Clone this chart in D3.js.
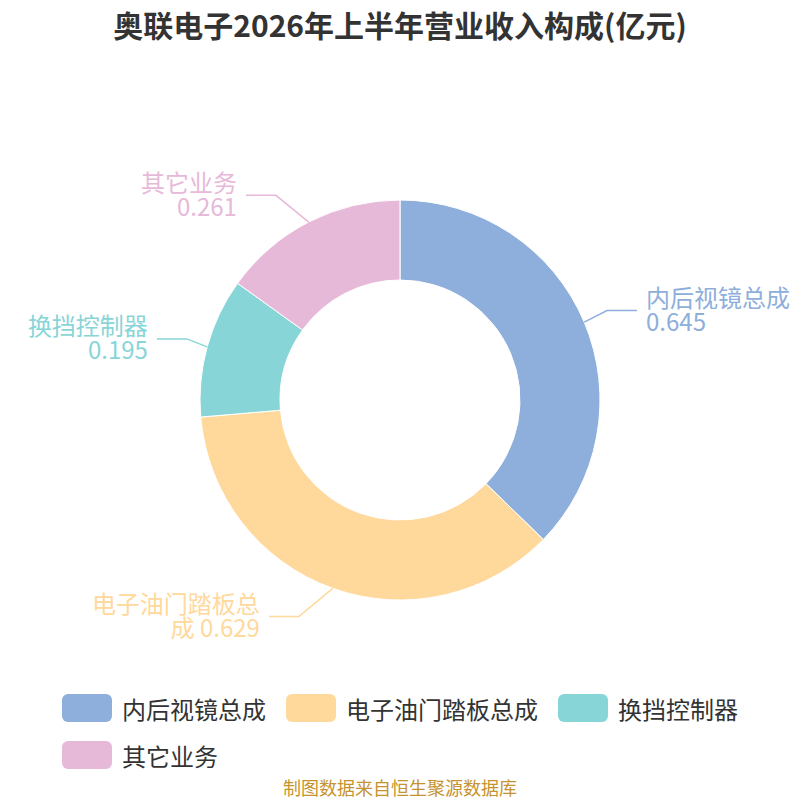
<!DOCTYPE html>
<html>
<head>
<meta charset="utf-8">
<script src="https://cdn.jsdelivr.net/npm/d3@7"></script>
<style>
  body { margin: 0; background: #fff; }
  text { font-family: "Noto Sans CJK SC", "Noto Sans", sans-serif; }
</style>
</head>
<body>
<div id="chart"></div>
<script>
// data
const categories = ["内后视镜总成", "电子油门踏板总成", "换挡控制器", "其它业务"];
const values = [0.645, 0.629, 0.195, 0.261];
const colors = ["#8eaedb", "#ffd99b", "#88d5d8", "#e7b9d9"];
const title = "奥联电子2026年上半年营业收入构成(亿元)";
const source = "制图数据来自恒生聚源数据库";

const width = 800, height = 800;
const cx = 400, cy = 400;
const outerR = 200, innerR = 120;

const svg = d3.select("#chart")
    .append("svg")
    .attr("width", width)
    .attr("height", height);

// title
svg.append("text")
    .attr("x", width / 2)
    .attr("y", 24)
    .attr("text-anchor", "middle")
    .attr("dominant-baseline", "central")
    .attr("font-size", 30)
    .attr("font-weight", "bold")
    .attr("fill", "#333")
    .text(title);

const data = categories.map((c, i) => ({ name: c, value: values[i], color: colors[i] }));

const pie = d3.pie()
    .value(d => d.value)
    .sort(null);

const arc = d3.arc()
    .innerRadius(innerR)
    .outerRadius(outerR);

const g = svg.append("g")
    .attr("transform", `translate(${cx},${cy})`);

const arcs = pie(data);

g.selectAll("path.slice")
    .data(arcs)
    .join("path")
    .attr("class", "slice")
    .attr("d", arc)
    .attr("fill", d => d.data.color)
    .attr("stroke", "#fff")
    .attr("stroke-width", 1);

// outside labels with leader lines
const len1 = 30, len2 = 30, gap = 10, lineH = 24, maxChars = 7;

arcs.forEach(d => {
    const mid = (d.startAngle + d.endAngle) / 2;
    const sx = Math.sin(mid), cy0 = -Math.cos(mid);
    const dir = sx < 0 ? -1 : 1;
    const p1 = [outerR * sx, outerR * cy0];
    const p2 = [p1[0] + dir * (15 + 20 * Math.abs(cy0)), p1[1] + len1 * cy0];
    const p3 = [p2[0] + dir * len2, p2[1]];

    g.append("polyline")
        .attr("points", [p1, p2, p3].map(p => p.join(",")).join(" "))
        .attr("fill", "none")
        .attr("stroke", d.data.color)
        .attr("stroke-width", 1.5);

    // name on first line, value on second; long names spill onto the value line
    const name = d.data.name;
    const lines = name.length > maxChars
        ? [name.slice(0, maxChars), name.slice(maxChars) + " " + d.data.value]
        : [name, String(d.data.value)];

    const t = g.append("text")
        .attr("text-anchor", dir < 0 ? "end" : "start")
        .attr("font-size", 24)
        .attr("fill", d.data.color);

    lines.forEach((ln, i) => {
        t.append("tspan")
            .attr("x", p3[0] + dir * (gap - 1))
            .attr("y", p3[1] + (i - (lines.length - 1) / 2) * lineH - 2)
            .attr("dominant-baseline", "central")
            .text(ln);
    });
});

// legend
const legendFont = 24, boxW = 50, boxH = 28, boxText = 10, itemGap = 20, rowH = 47;
const legendTop = 708, maxRowW = 690;

const legend = svg.append("g");
const items = legend.selectAll("g.item")
    .data(data)
    .join("g")
    .attr("class", "item");

items.append("rect")
    .attr("width", boxW)
    .attr("height", boxH)
    .attr("y", -boxH / 2)
    .attr("rx", 6)
    .attr("fill", d => d.color);

items.append("text")
    .attr("x", boxW + boxText)
    .attr("dominant-baseline", "central")
    .attr("font-size", legendFont)
    .attr("fill", "#333")
    .text(d => d.name);

// lay items out in rows, block centred, rows left-aligned
const rows = [[]];
let rowW = 0;
items.each(function() {
    const w = this.getBBox().width;
    const need = rowW === 0 ? w : rowW + itemGap + w;
    if (need > maxRowW && rowW > 0) {
        rows.push([]);
        rowW = w;
    } else {
        rowW = need;
    }
    rows[rows.length - 1].push({ node: this, w: w });
});
const blockW = d3.max(rows, r => d3.sum(r, it => it.w) + itemGap * (r.length - 1));
const left = (width - blockW) / 2;
rows.forEach((r, ri) => {
    let x = left;
    r.forEach(it => {
        d3.select(it.node).attr("transform", `translate(${x},${legendTop + ri * rowH})`);
        x += it.w + itemGap;
    });
});

// source note
svg.append("text")
    .attr("x", width / 2)
    .attr("y", 787)
    .attr("text-anchor", "middle")
    .attr("dominant-baseline", "central")
    .attr("font-size", 18)
    .attr("fill", "#c59330")
    .text(source);
</script>
</body>
</html>
